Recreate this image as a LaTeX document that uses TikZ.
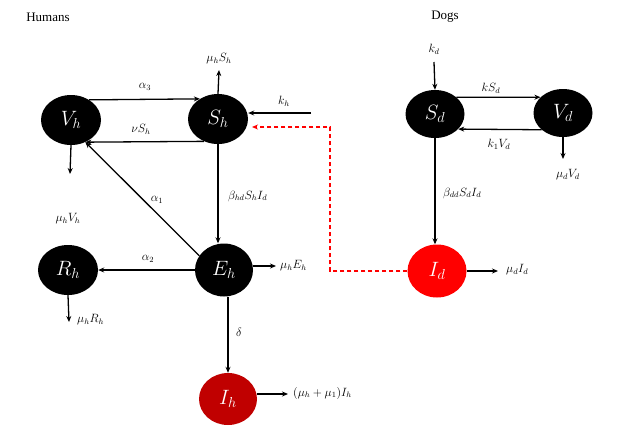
\documentclass[tikz,border=0pt]{standalone}
\usepackage{fontspec}
\setmainfont{Liberation Serif}
\usetikzlibrary{shapes.geometric,arrows.meta}
\definecolor{darkred}{RGB}{192,0,0}
\definecolor{brightred}{RGB}{255,0,0}
\begin{document}
\begin{tikzpicture}[x=1pt,y=-1pt,
  comp/.style={ellipse,draw=none,fill=black,text=white,minimum width=60pt,minimum height=50pt,inner sep=0pt,font=\fontsize{22}{24}\selectfont},
  flow/.style={line width=1.3pt,-{Stealth[length=6pt,width=5pt]}},
  lab/.style={inner sep=1pt,font=\fontsize{11.5}{13}\selectfont},
  title/.style={inner sep=0pt,font=\fontsize{13}{15}\selectfont}]
\useasboundingbox (0,0) rectangle (624,432);
% titles
\node[title] (th) at (48,17) {Humans};
\node[title] (td) at (445,17) {Dogs};
% compartments
\node[comp] (Vh) at (71,120) {$V_h$};
\node[comp] (Sh) at (218,119) {$S_h$};
\node[comp] (Rh) at (68,270) {$R_h$};
\node[comp,minimum width=58pt,minimum height=53pt] (Eh) at (224,270) {$E_h$};
\node[comp,fill=darkred,minimum width=58pt,minimum height=52pt] (Ih) at (228,399) {$I_h$};
\node[comp,minimum width=59pt,minimum height=48pt] (Sd) at (435,114) {$S_d$};
\node[comp,minimum width=59pt,minimum height=48pt] (Vd) at (563,113) {$V_d$};
\node[comp,fill=brightred,minimum width=59pt,minimum height=53pt] (Id) at (437,271) {$I_d$};
% free ends
\coordinate (muSh) at (219,70);
\coordinate (khs) at (311,113);
\coordinate (muVh) at (70,174);
\coordinate (muEh) at (276,266);
\coordinate (muRh) at (69,322);
\coordinate (muIh) at (288,394);
\coordinate (kds) at (434,62);
\coordinate (muVd) at (563,159);
\coordinate (muId) at (498,271);
\coordinate (bend) at (330,127);
\coordinate (shred) at (252,127);
% human flows
\draw[flow] (Vh.48) -- (Sh.132);
\node[lab] (la3) at (145,87) {$\alpha_3$};
\draw[flow] (Sh.238) -- (Vh.-57);
\node[lab] (lnu) at (141,129) {$\nu S_h$};
\draw[flow] (Sh.north) -- (muSh);
\node[lab] (lmuSh) at (219,59) {$\mu_h S_h$};
\draw[flow] (khs) -- (khs -| Sh.east);
\node[lab] (lkh) at (284,101) {$k_h$};
\draw[flow] (Vh.south) -- (muVh);
\node[lab] (lmuVh) at (68,219) {$\mu_h V_h$};
\draw[flow] (Sh.south) -- (Sh.south |- Eh.north);
\node[lab,anchor=west] (lbeta) at (227,196) {$\beta_{hd} S_h I_d$};
\draw[flow] (Eh.150) -- (Vh.-57);
\node[lab] (la1) at (157,200) {$\alpha_1$};
\draw[flow] (Eh.west) -- (Rh.east);
\node[lab] (la2) at (148,259) {$\alpha_2$};
\draw[flow] (muEh -| Eh.east) -- (muEh);
\node[lab,anchor=west] (lmuEh) at (279,266) {$\mu_h E_h$};
\draw[flow] (Rh.south) -- (muRh);
\node[lab,anchor=west] (lmuRh) at (76,320) {$\mu_h R_h$};
\draw[flow] (Ih.north |- Eh.south) -- (Ih.north);
\node[lab] (ldelta) at (239,332) {$\delta$};
\draw[flow] (muIh -| Ih.east) -- (muIh);
\node[lab,anchor=west] (lmuIh) at (292,393) {$(\mu_h+\mu_1)I_h$};
% dog flows
\draw[flow] (kds) -- (Sd.north);
\node[lab] (lkd) at (434,49) {$k_d$};
\draw[flow] (Sd.38) -- (Vd.145);
\node[lab] (lkS) at (491,88) {$k S_d$};
\draw[flow] (Vd.-142) -- (Sd.-33);
\node[lab] (lk1) at (499,144) {$k_1 V_d$};
\draw[flow] (Vd.south) -- (muVd);
\node[lab] (lmuVd) at (568,175) {$\mu_d V_d$};
\draw[flow] (Sd.south) -- (Sd.south |- Id.north);
\node[lab,anchor=west] (lbdd) at (442,193) {$\beta_{dd} S_d I_d$};
\draw[flow] (Id.east) -- (muId);
\node[lab,anchor=west] (lmuId) at (505,270) {$\mu_d I_d$};
% cross infection
\draw[brightred,line width=1.2pt,dash pattern=on 4.5pt off 2.5pt,-{Stealth[length=6pt,width=5pt]}] (Id.west) -| (bend) -- (shred);
\end{tikzpicture}
\end{document}
